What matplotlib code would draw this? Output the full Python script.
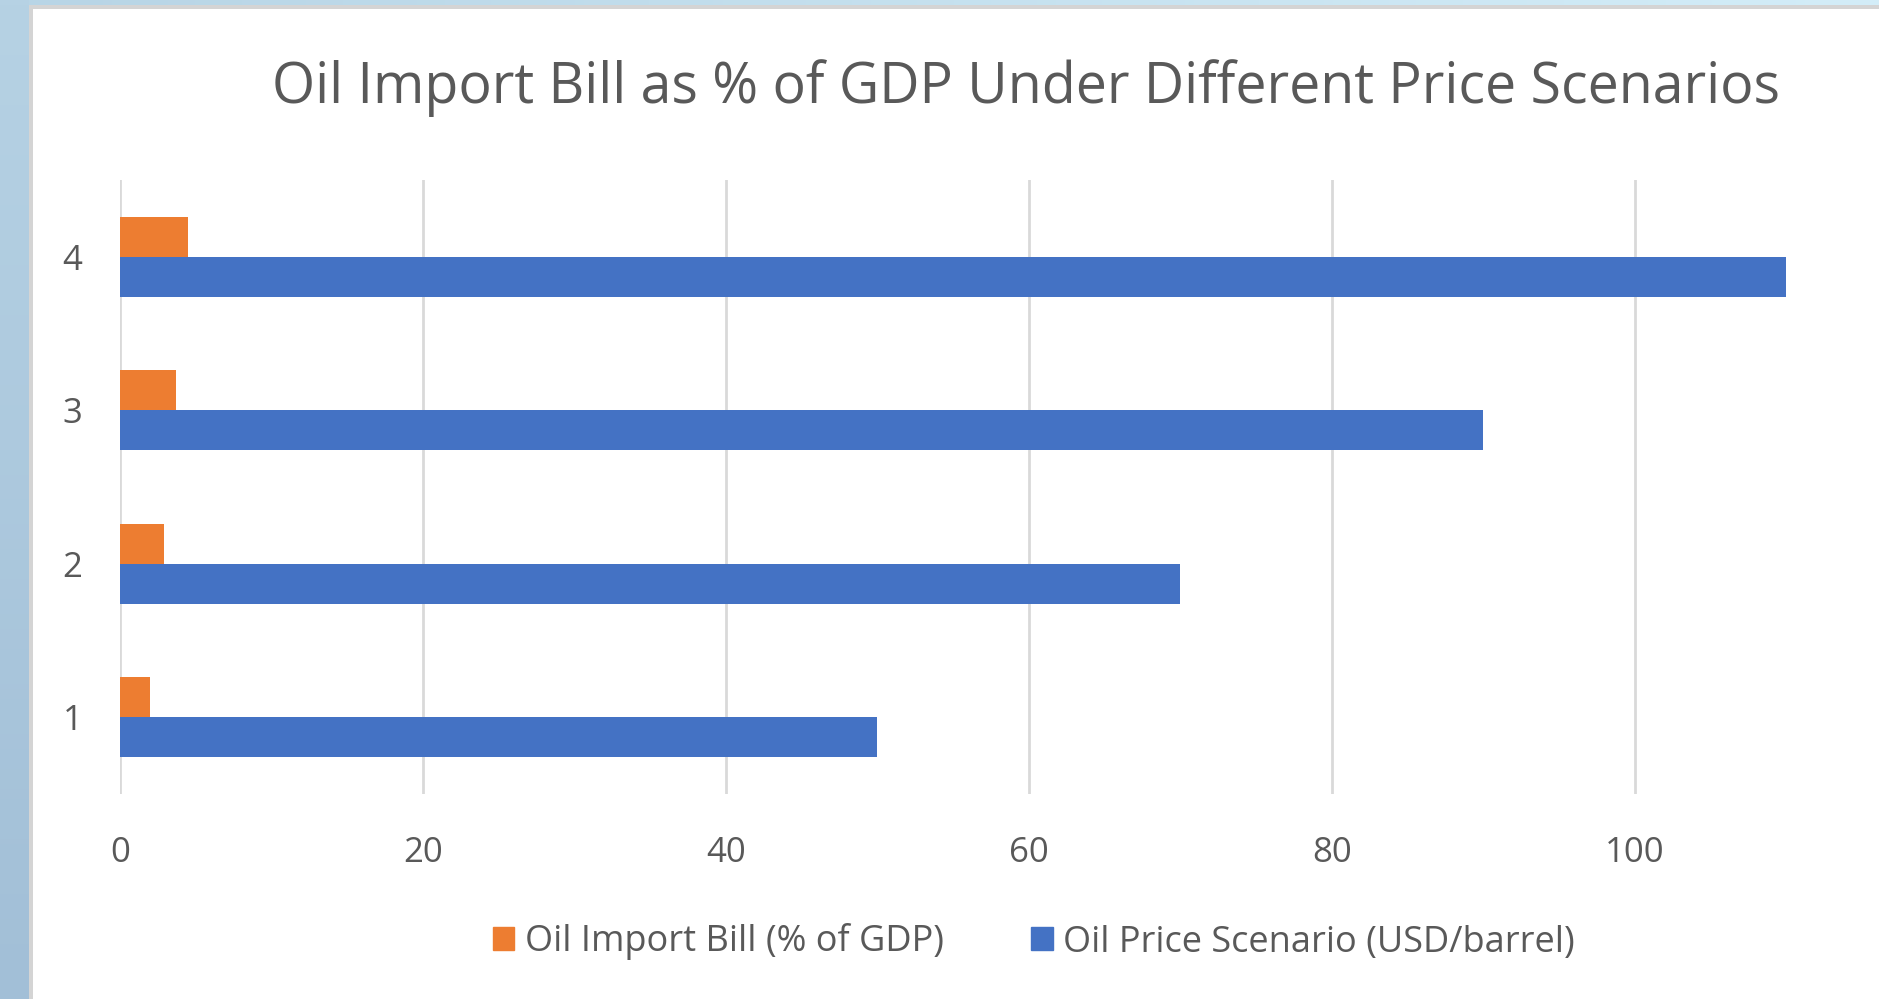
import matplotlib
matplotlib.use("Agg")
import matplotlib.pyplot as plt
import matplotlib.patches as mpatches
import numpy as np

# ---- data ----
categories = ["1", "2", "3", "4"]
import_bill = [2.0, 2.9, 3.7, 4.5]          # Oil Import Bill (% of GDP)
price_scenario = [50, 70, 90, 110]          # Oil Price Scenario (USD/barrel)
series_names = ["Oil Import Bill (% of GDP)", "Oil Price Scenario (USD/barrel)"]
x_ticks = [0, 20, 40, 60, 80, 100]
title = "Oil Import Bill as % of GDP Under Different Price Scenarios"

ORANGE = "#ED7D31"
BLUE = "#4472C4"
GREY_TXT = "#595959"
GRID = "#D9D9D9"

plt.rcParams['font.family'] = ['Open Sans', 'DejaVu Sans']

W, H = 1879, 999
fig = plt.figure(figsize=(W / 100, H / 100), dpi=100)
fig.patch.set_facecolor("white")

def frect(x0, y0, x1, y1, color, z=0):
    fig.patches.append(mpatches.Rectangle((x0 / W, 1 - y1 / H), (x1 - x0) / W, (y1 - y0) / H,
                                          transform=fig.transFigure, facecolor=color,
                                          edgecolor="none", zorder=z))

# window-like frame: blue strips + grey border
grad = np.linspace(0, 1, 200).reshape(-1, 1)
ax_bg = fig.add_axes([0, 0, 29 / W, 1])
ax_bg.imshow(grad, aspect="auto", cmap=matplotlib.colors.LinearSegmentedColormap.from_list(
    "g", ["#B6D2E4", "#A2BFD7"]), extent=[0, 1, 0, 1])
ax_bg.axis("off")
ax_top = fig.add_axes([29 / W, 1 - 5 / H, 1 - 29 / W, 5 / H])
ax_top.imshow(np.linspace(0, 1, 200).reshape(1, -1), aspect="auto",
              cmap=matplotlib.colors.LinearSegmentedColormap.from_list("t", ["#B8D5E6", "#D3EDF8"]),
              extent=[0, 1, 0, 1])
ax_top.axis("off")
frect(29, 5, W, 9, "#D4D4D4")
frect(29, 5, 33, H, "#D4D4D4")

# ---- main axes ----
left, right = 120 / W, 1786 / W
top, bottom = 1 - 180 / H, 1 - 794 / H
ax = fig.add_axes([left, bottom, right - left, top - bottom])
ax.set_facecolor("none")

y = np.arange(len(categories))
bar_h = 40 / 153.25
ax.barh(y + bar_h / 2, import_bill, height=bar_h, color=ORANGE, label=series_names[0], zorder=3)
ax.barh(y - bar_h / 2, price_scenario, height=bar_h, color=BLUE, label=series_names[1], zorder=3)

ax.set_xlim(0, 110)
ax.set_ylim(-0.5, len(categories) - 0.5)
ax.set_xticks(x_ticks)
ax.set_xticklabels([str(t) for t in x_ticks])
ax.set_yticks(y)
ax.set_yticklabels(categories)
ax.tick_params(axis="both", length=0, labelsize=25, labelcolor=GREY_TXT)
ax.tick_params(axis="x", pad=30)
ax.tick_params(axis="y", pad=27)
ax.grid(axis="x", color=GRID, linewidth=2, zorder=0)
ax.grid(axis="y", visible=False)
for s in ax.spines.values():
    s.set_visible(False)

# title
fig.text(1026 / W, 1 - 88 / H, title, ha="center", va="center", fontsize=40, color=GREY_TXT)

# legend
handles = [mpatches.Patch(color=ORANGE), mpatches.Patch(color=BLUE)]
leg = fig.legend(handles, series_names, loc="center", bbox_to_anchor=(1034 / W, 1 - 942 / H),
                 ncol=2, frameon=False, fontsize=26, labelcolor=GREY_TXT,
                 handlelength=0.6, handleheight=0.6, handletextpad=0.3, columnspacing=2.4)

fig.savefig("out.png", dpi=100)
